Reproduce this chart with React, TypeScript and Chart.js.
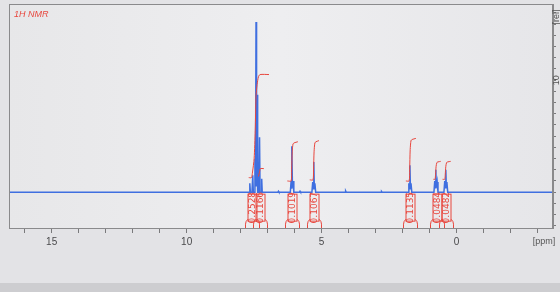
import React, { useEffect, useRef } from "react";
import { Chart, registerables } from "chart.js";

Chart.register(...registerables);

const X_MIN = -3.57;
const X_MAX = 16.58;
const Y_MIN = -3.2;
const Y_MAX = 16.8;

const BLUE = "#3f6fe0";
const RED = "#e8463d";

const xTickValues = [-3, -2, -1, 0, 1, 2, 3, 4, 5, 6, 7, 8, 9, 10, 11, 12, 13, 14, 15, 16];
const yTickValues = [-3, -2, -1, 0, 1, 2, 3, 4, 5, 6, 7, 8, 9, 10, 11, 12, 13, 14, 15, 16];

// spectrum (ppm, relative intensity)
const spectrumPpm = [
  16.58,
  7.72, 7.68, 7.66, 7.64, 7.58, 7.55, 7.53, 7.5, 7.47, 7.45, 7.43, 7.41, 7.39, 7.37, 7.33, 7.3, 7.28, 7.24, 7.22, 7.2,
  6.62, 6.6, 6.58,
  6.16, 6.13, 6.11, 6.1, 6.08, 6.06, 6.03,
  5.82, 5.8, 5.78,
  5.36, 5.33, 5.31, 5.29, 5.27, 5.25, 5.22,
  4.13, 4.11, 4.09,
  2.8, 2.78, 2.76,
  1.8, 1.77, 1.75, 1.73, 1.71, 1.69, 1.66,
  0.84, 0.81, 0.79, 0.77, 0.75, 0.72, 0.69,
  0.47, 0.44, 0.42, 0.4, 0.38, 0.36, 0.33,
  -3.57,
];
const spectrumIntensity = [
  0,
  0, 0, 0.8, 0, 0, 1.5, 0, 0, 3.0, 0.5, 15.2, 0.5, 8.7, 0, 0, 4.9, 0, 0, 1.2, 0,
  0, 0.08, 0,
  0, 1.0, 0.3, 4.1, 0.4, 1.0, 0,
  0, 0.08, 0,
  0, 0.9, 0.3, 2.7, 0.3, 0.8, 0,
  0, 0.1, 0,
  0, 0.06, 0,
  0, 0.8, 0.3, 2.4, 0.3, 0.8, 0,
  0, 1.0, 0.4, 2.0, 0.4, 0.9, 0,
  0, 1.0, 0.4, 2.0, 0.4, 0.9, 0,
  0,
];

// integral curves
const integral1Ppm = [7.7, 7.6, 7.56, 7.5, 7.46, 7.43, 7.39, 7.34, 7.28, 6.95];
const integral1Val = [1.3, 1.3, 1.8, 3.0, 5.5, 8.6, 9.6, 10.3, 10.5, 10.5];
const integral2Ppm = [7.34, 7.3, 7.27, 7.14];
const integral2Val = [1.4, 1.8, 2.1, 2.1];
const integral3Ppm = [6.27, 6.13, 6.11, 6.09, 6.06, 6.02, 5.88];
const integral3Val = [1.0, 1.0, 2.0, 3.6, 4.3, 4.4, 4.5];
const integral4Ppm = [5.44, 5.32, 5.3, 5.28, 5.25, 5.21, 5.1];
const integral4Val = [1.1, 1.1, 2.0, 3.6, 4.4, 4.5, 4.6];
const integral5Ppm = [1.88, 1.76, 1.74, 1.72, 1.69, 1.65, 1.51];
const integral5Val = [1.0, 1.0, 2.0, 3.8, 4.6, 4.7, 4.8];
const integral6Ppm = [0.86, 0.8, 0.78, 0.76, 0.73, 0.69, 0.59];
const integral6Val = [1.15, 1.15, 1.6, 2.3, 2.65, 2.7, 2.75];
const integral7Ppm = [0.52, 0.44, 0.42, 0.4, 0.37, 0.33, 0.22];
const integral7Val = [1.15, 1.15, 1.6, 2.3, 2.65, 2.7, 2.75];

const integralPpm = [integral1Ppm, integral2Ppm, integral3Ppm, integral4Ppm, integral5Ppm, integral6Ppm, integral7Ppm];
const integralVal = [integral1Val, integral2Val, integral3Val, integral4Val, integral5Val, integral6Val, integral7Val];

// integral labels
const labelPpm = [7.58, 7.27, 6.1, 5.29, 1.73, 0.74, 0.4];
const labelText = ["0.2528", "0.1166", "0.1019", "0.1067", "0.1135", "0.0484", "0.0482"];

const decorPlugin = {
  id: "decor",
  beforeDraw(chart: any) {
    const { ctx, chartArea, width, height } = chart;
    ctx.save();
    ctx.fillStyle = "#e3e3e6";
    ctx.fillRect(0, 0, width, height);
    ctx.fillStyle = "#cdcdd0";
    ctx.fillRect(0, 283, width, height - 283);
    const g = ctx.createLinearGradient(chartArea.left, 0, chartArea.right, 0);
    g.addColorStop(0, "#e7e7e9");
    g.addColorStop(0.5, "#eeeef0");
    g.addColorStop(1, "#e6e6e9");
    ctx.fillStyle = g;
    ctx.fillRect(chartArea.left, chartArea.top, chartArea.right - chartArea.left, chartArea.bottom - chartArea.top);
    ctx.restore();
  },
  afterDatasetsDraw(chart: any) {
    const { ctx, chartArea, scales } = chart;
    const xs = scales.x;
    const ys = scales.y;
    ctx.save();
    // plot border
    ctx.strokeStyle = "#8a8a8c";
    ctx.lineWidth = 1;
    ctx.strokeRect(chartArea.left + 0.5, chartArea.top + 0.5, chartArea.right - chartArea.left - 1, chartArea.bottom - chartArea.top);

    // integral label boxes
    const base = ys.getPixelForValue(0);
    labelPpm.forEach((p, i) => {
      const cx = Math.round(xs.getPixelForValue(p)) + 0.5;
      const top = base + 2;
      const h = 27;
      const w = 9;
      ctx.strokeStyle = RED;
      ctx.lineWidth = 1;
      ctx.strokeRect(cx - w / 2, top, w, h);
      ctx.beginPath();
      ctx.moveTo(cx - w / 2, top + h - 2);
      ctx.quadraticCurveTo(cx - w / 2 - 2.5, top + h, cx - w / 2 - 2.5, top + h + 3);
      ctx.lineTo(cx - w / 2 - 2.5, chartArea.bottom);
      ctx.moveTo(cx + w / 2, top + h - 2);
      ctx.quadraticCurveTo(cx + w / 2 + 2.5, top + h, cx + w / 2 + 2.5, top + h + 3);
      ctx.lineTo(cx + w / 2 + 2.5, chartArea.bottom);
      ctx.stroke();
      ctx.save();
      ctx.translate(cx, top + h / 2);
      ctx.rotate(-Math.PI / 2);
      ctx.fillStyle = RED;
      ctx.font = "9px 'DejaVu Sans'";
      ctx.textAlign = "center";
      ctx.textBaseline = "middle";
      ctx.fillText(labelText[i], 0, 0.5);
      ctx.restore();
    });

    // title
    ctx.fillStyle = RED;
    ctx.font = "italic 9px 'Liberation Sans'";
    ctx.textAlign = "left";
    ctx.textBaseline = "middle";
    ctx.fillText("1H NMR", chartArea.left + 5, chartArea.top + 10);

    // axis unit labels
    ctx.fillStyle = "#555";
    ctx.font = "9px 'Liberation Sans'";
    ctx.textAlign = "center";
    ctx.fillText("[ppm]", 544, 242);

    ctx.save();
    ctx.translate(557, 17);
    ctx.rotate(-Math.PI / 2);
    ctx.fillText("[rel]", 0, 0);
    ctx.restore();
    ctx.save();
    ctx.translate(557, ys.getPixelForValue(10));
    ctx.rotate(-Math.PI / 2);
    ctx.fillText("10", 0, 0);
    ctx.restore();

    ctx.restore();
  },
};

export default function App() {
  const ref = useRef<HTMLCanvasElement | null>(null);

  useEffect(() => {
    document.body.style.margin = "0";
    const canvas = ref.current;
    if (!canvas) return;
    const datasets: any[] = [
      {
        data: spectrumPpm.map((x, i) => ({ x, y: spectrumIntensity[i] })),
        borderColor: BLUE,
        borderWidth: 1.5,
        pointRadius: 0,
        tension: 0,
        order: 2,
      },
      ...integralPpm.map((arr, k) => ({
        data: arr.map((x, i) => ({ x, y: integralVal[k][i] })),
        borderColor: RED,
        borderWidth: 1,
        pointRadius: 0,
        tension: 0.25,
        order: 1,
      })),
    ];
    const chart = new Chart(canvas, {
      type: "line",
      data: { datasets },
      options: {
        responsive: false,
        animation: false,
        events: [],
        layout: { padding: { left: 9, top: 4, right: 0, bottom: 0 } },
        plugins: {
          legend: { display: false },
          tooltip: { enabled: false },
          title: { display: false },
        },
        scales: {
          x: {
            type: "linear",
            reverse: true,
            min: X_MIN,
            max: X_MAX,
            position: "bottom",
            afterBuildTicks: (s: any) => {
              s.ticks = xTickValues.map((v) => ({ value: v }));
            },
            ticks: {
              autoSkip: false,
              maxRotation: 0,
              minRotation: 0,
              padding: 3,
              color: "#4a4a4c",
              font: { size: 10, family: "'Liberation Sans'" },
              callback: (v: any) => (Number(v) % 5 === 0 ? String(v) : ""),
            },
            grid: { drawOnChartArea: false, tickLength: 5, color: "#7a7a7c" },
            border: { display: true, color: "#8a8a8c" },
            afterFit: (s: any) => {
              s.height = 292 - 228;
            },
          },
          y: {
            type: "linear",
            position: "right",
            min: Y_MIN,
            max: Y_MAX,
            afterBuildTicks: (s: any) => {
              s.ticks = yTickValues.map((v) => ({ value: v }));
            },
            ticks: { display: false },
            grid: { drawOnChartArea: false, tickLength: 3, color: "#7a7a7c" },
            border: { display: true, color: "#8a8a8c" },
            afterFit: (s: any) => {
              s.width = 7;
            },
          },
        },
      },
      plugins: [decorPlugin],
    });
    return () => chart.destroy();
  }, []);

  return (
    <div style={{ position: "fixed", left: 0, top: 0, width: 560, height: 292 }}>
      <canvas ref={ref} width={560} height={292} style={{ display: "block" }} />
    </div>
  );
}
